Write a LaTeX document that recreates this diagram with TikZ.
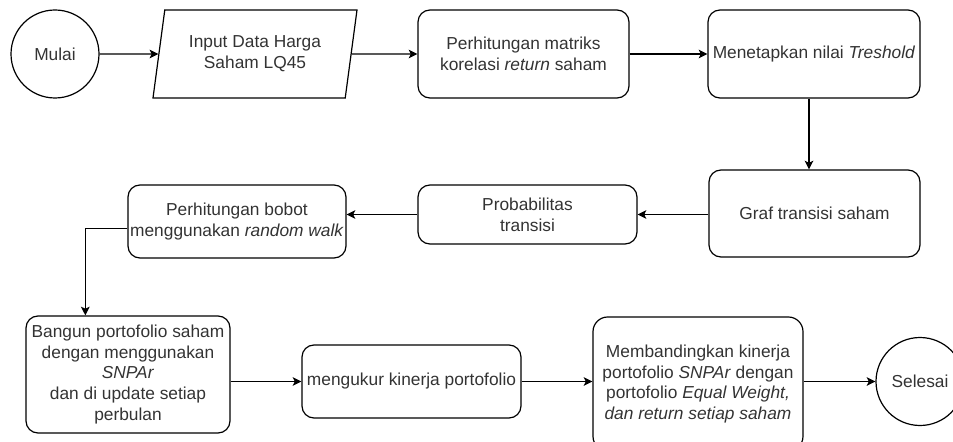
\documentclass[tikz,border=0pt]{standalone}
\usepackage{fontspec}
\setmainfont{Liberation Sans}
\usepackage{xcolor}
\usetikzlibrary{shapes.geometric,arrows.meta}
\usetikzlibrary{positioning}

\definecolor{tinta}{HTML}{333333}
\tikzset{
	terminal/.style={circle,draw,line width=0.9pt,minimum size=66pt,inner sep=0pt,text=tinta,font=\fontsize{13pt}{15.5pt}\selectfont},
	proses/.style={rectangle,rounded corners=9pt,draw,line width=0.9pt,align=center,inner sep=1pt,text=tinta,font=\fontsize{13pt}{15.5pt}\selectfont},
	dataio/.style={trapezium,trapezium left angle=73,trapezium right angle=107,trapezium stretches body,draw,line width=0.9pt,align=center,inner sep=1pt,text=tinta,font=\fontsize{13pt}{15.5pt}\selectfont},
	alur/.style={-{Stealth[length=6.5pt,width=6.5pt,inset=1.5pt]},line width=0.9pt}
}

\begin{document}
\begin{tikzpicture}[x=0.75pt,y=-0.75pt]
	\useasboundingbox (0,0) rectangle (953,442);
	
	% baris atas
	\node[terminal] (mulai) at (55,54) {Mulai};
	\node[dataio,minimum width=153pt,minimum height=66pt] (input) at (255,54) {Input Data Harga\\Saham LQ45};
	\node[proses,minimum width=158.25pt,minimum height=66pt] (korelasi) at (523.5,54) {Perhitungan matriks\\korelasi \textit{return} saham};
	\node[proses,minimum width=159pt,minimum height=66pt] (treshold) at (814,54) {Menetapkan nilai \textit{Treshold}};
	
	% baris tengah
	\node[proses,minimum width=158.25pt,minimum height=65.25pt] (graf) at (814.5,213.5) {Graf transisi saham};
	\node[proses,minimum width=164.25pt,minimum height=44.25pt] (prob) at (527.5,214.5) {Probabilitas\\transisi};
	\node[proses,minimum width=163.5pt,minimum height=54.75pt] (bobot) at (237,221.5) {Perhitungan bobot\\menggunakan \textit{random walk}};
	
	% baris bawah
	\node[proses,minimum width=153pt,minimum height=87.75pt] (bangun) at (128,374.5) {Bangun portofolio saham\\dengan menggunakan\\\textit{SNPAr}\\dan di update setiap\\perbulan};
	\node[proses,minimum width=164.25pt,minimum height=54.75pt] (ukur) at (411.5,381.5) {mengukur kinerja portofolio};
	\node[proses,rounded corners=11pt,minimum width=157.5pt,minimum height=100.5pt] (banding) at (698,384) {Membandingkan kinerja\\portofolio \textit{SNPAr} dengan\\portofolio \textit{Equal Weight,}\\\textit{dan return setiap saham}};
	\node[terminal] (selesai) at (920,381.5) {Selesai};
	
	% alur
	\draw[alur] (mulai) -- (input);
	\draw[alur] (input) -- (korelasi);
	\draw[alur] (korelasi) -- (treshold);
	\draw[alur] (treshold.south -| 809,0) -- (graf.north -| 809,0);
	\draw[alur] (graf.west |- prob) -- (prob);
	\draw[alur] (prob.west) -- (prob.west -| bobot.east);
	\draw[alur] ([yshift=-5.5pt]bobot.west) -| ([xshift=-32pt]bangun.north);
	\draw[alur] (ukur.west -| bangun.east) -- (ukur.west);
	\draw[alur] (ukur) -- (ukur -| banding.west);
	\draw[alur] (banding.east |- selesai) -- (selesai);
	
\end{tikzpicture}
\end{document}
